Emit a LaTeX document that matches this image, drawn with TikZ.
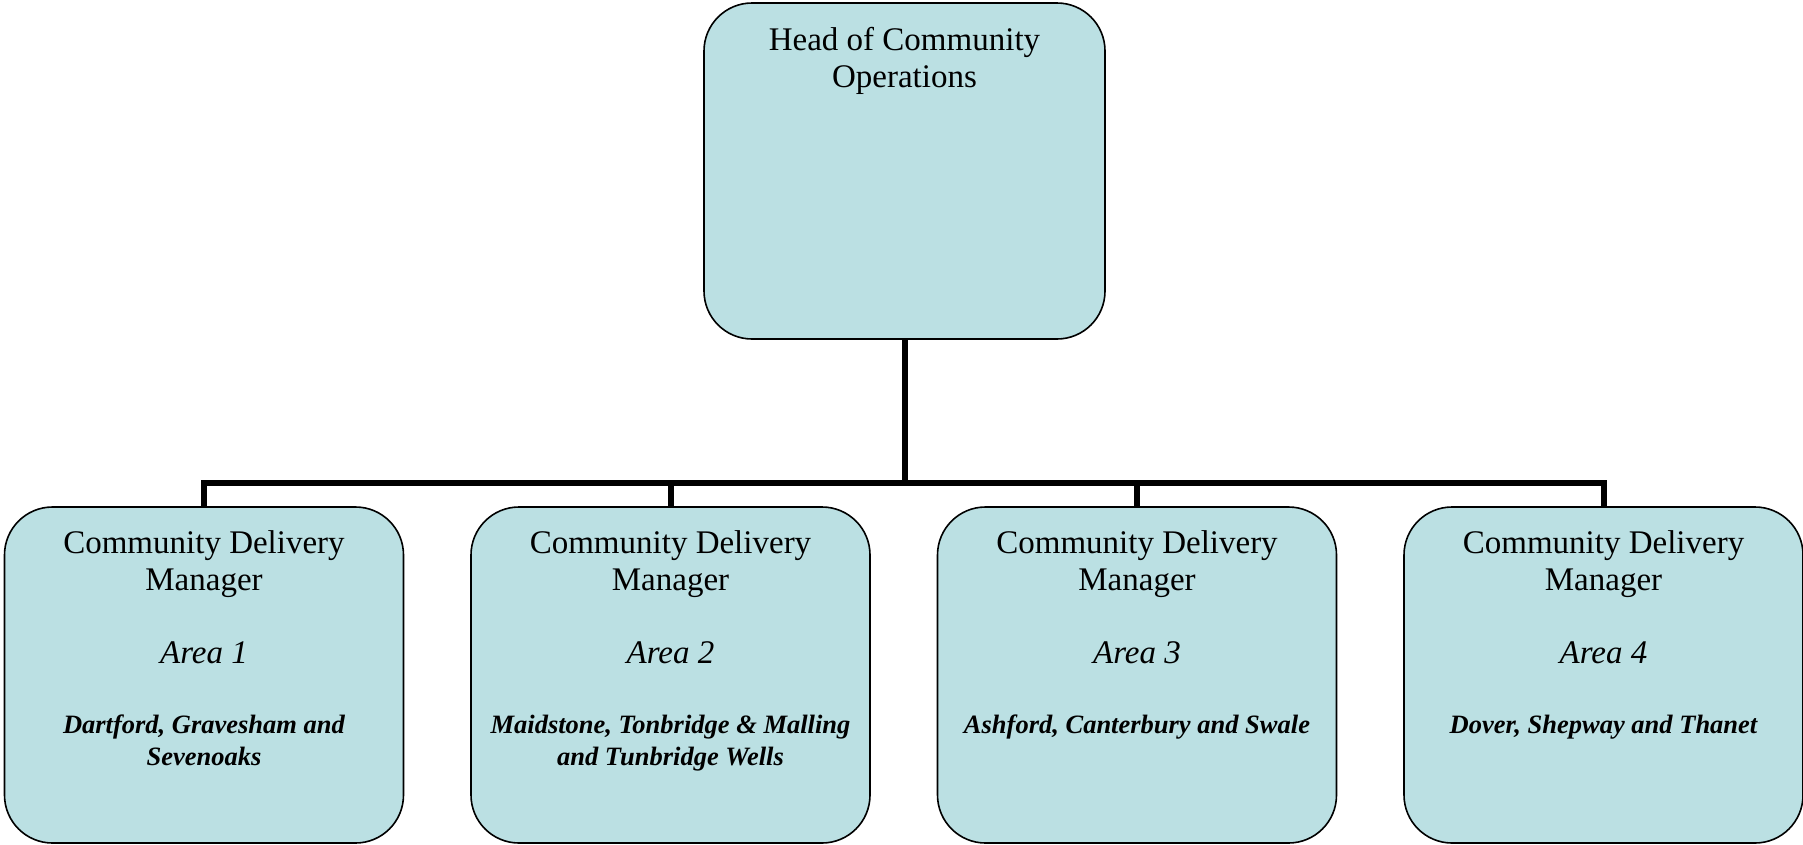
\documentclass[tikz,border=0pt]{standalone}
\usepackage{fontspec}
\setmainfont{Liberation Serif}
\definecolor{boxfill}{RGB}{187,224,227}
\tikzset{
  box/.style={draw=black, line width=1.6pt, fill=boxfill, rounded corners=48pt,
    minimum width=399pt, minimum height=336pt, inner sep=0pt, outer sep=0pt},
  topbox/.style={box, minimum width=401pt},
  conn/.style={draw=black, line width=6pt, line join=miter},
  title/.style={anchor=base, inner sep=0pt, font=\fontsize{33}{38}\selectfont},
  area/.style={anchor=base, inner sep=0pt, font=\fontsize{33}{38}\selectfont\itshape},
  district/.style={anchor=base, inner sep=0pt, font=\fontsize{26.5}{32}\selectfont\bfseries\itshape},
}
\begin{document}
\begin{tikzpicture}[x=1pt,y=-1pt]
\useasboundingbox (0,0) rectangle (1803,844);
% top box
\node[topbox] (top) at (904.5,171) {};
\node[title] (t1) at (904.5,50) {Head of Community};
\node[title] (t2) at (904.5,87) {Operations};
% bottom boxes
\node[box] (b1) at (204,675) {};
\node[box] (b2) at (670.5,675) {};
\node[box] (b3) at (1137,675) {};
\node[box] (b4) at (1603.5,675) {};
\foreach \i/\x in {1/204,2/670.5,3/1137,4/1603.5}{
  \node[title] (c\i) at (\x,553) {Community Delivery};
  \node[title] (m\i) at (\x,590) {Manager};
  \node[area] (a\i) at (\x,663) {Area \i};
}
\node[district] (d1a) at (204,733) {Dartford, Gravesham and};
\node[district] (d1b) at (204,765) {Sevenoaks};
\node[district] (d2a) at (670.5,733) {Maidstone, Tonbridge \& Malling};
\node[district] (d2b) at (670.5,765) {and Tunbridge Wells};
\node[district] (d3) at (1137,733) {Ashford, Canterbury and Swale};
\node[district] (d4) at (1603.5,733) {Dover, Shepway and Thanet};
% connectors
\coordinate (bar) at (904.5,483);
\draw[conn] (top.south) -- (bar);
\draw[conn] (b1.north) -- (b1.north |- bar) -- (b4.north |- bar) -- (b4.north);
\draw[conn] (b2.north) -- (b2.north |- bar);
\draw[conn] (b3.north) -- (b3.north |- bar);
\end{tikzpicture}
\end{document}
